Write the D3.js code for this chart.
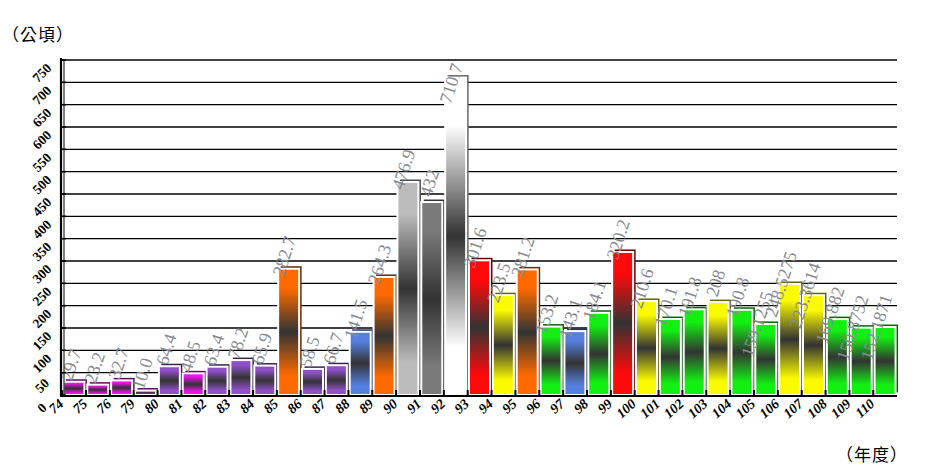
<!DOCTYPE html>
<html><head><meta charset="utf-8">
<script src="https://cdn.jsdelivr.net/npm/d3@7"></script>
<style>body{margin:0;background:#fff;} svg{display:block}</style>
</head><body><svg id="c" width="925" height="472"></svg>
<script>
const years = ["74","75","76","79","80","81","82","83","84","85","86","87","88","89","90","91","92","93","94","95","96","97","98","99","100","101","102","103","104","105","106","107","108","109","110"];
const valueLabels = ["29.7","23.2","32.7","10.0","64.4","48.5","63.4","78.2","65.9","282.7","58.5","66.7","141.5","264.3","476.9","432","710.7","301.6","223.5","281.2","153.2","143.1","184.1","320.2","210.6","170.1","191.8","208","190.8","159.1255","248.5275","223.3614","169.882","150.8752","152.1871"];
const values = valueLabels.map(Number);
const palette = {M:"#ee14ee",P:"#8f50c8",O:"#ff6a00",B:"#5580e0",LG:"#bcbcbc",G:"#7a7a7a",W:"#ffffff",R:"#ff0a0a",Y:"#fafa00",Gr:"#12f012"};
const barColorKeys = ["M","M","M","M","P","M","P","P","P","O","P","P","B","O","LG","G","W","R","Y","O","Gr","B","Gr","R","Y","Gr","Gr","Y","Gr","Gr","Y","Y","Gr","Gr","Gr"];
const yTicks = d3.range(0, 751, 50);

const svg = d3.select("#c");
const x = d3.scaleBand().domain(years).range([62, 897]).paddingInner(0.12).paddingOuter(0.06);
const y = d3.scaleLinear().domain([0, 750]).range([395, 60]);

const defs = svg.append("defs");
Object.entries(palette).forEach(([k, c]) => {
  const g = defs.append("linearGradient").attr("id", "grad-" + k)
    .attr("x1", 0).attr("y1", 0).attr("x2", 0).attr("y2", 1);
  g.append("stop").attr("offset", "0%").attr("stop-color", c);
  g.append("stop").attr("offset", "15%").attr("stop-color", c);
  g.append("stop").attr("offset", "50%").attr("stop-color", "#333");
  g.append("stop").attr("offset", "85%").attr("stop-color", c);
  g.append("stop").attr("offset", "100%").attr("stop-color", c);
});

// gridlines
svg.append("g").selectAll("line").data(yTicks.filter(t => t > 0)).join("line")
  .attr("x1", 62).attr("x2", 897)
  .attr("y1", d => y(d)).attr("y2", d => y(d))
  .attr("stroke", "#000").attr("stroke-width", 1.3);

const data = years.map((yr, i) => ({yr, v: values[i], label: valueLabels[i], key: barColorKeys[i]}));

// shadows
svg.append("g").selectAll("rect").data(data).join("rect")
  .attr("x", d => x(d.yr) + 2.5).attr("y", d => y(d.v) - 2.5)
  .attr("width", x.bandwidth()).attr("height", d => y(0) - y(d.v))
  .attr("fill", d => d3.color(palette[d.key]).darker(2.5));

// bars
svg.append("g").selectAll("rect").data(data).join("rect")
  .attr("x", d => x(d.yr)).attr("y", d => y(d.v))
  .attr("width", x.bandwidth()).attr("height", d => y(0) - y(d.v))
  .attr("fill", d => "url(#grad-" + d.key + ")")
  .attr("stroke", "#fff").attr("stroke-width", 2);

// base ticks between bars
svg.append("g").selectAll("line").data(years).join("line")
  .attr("x1", d => x(d) - 1.3).attr("x2", d => x(d) - 1.3)
  .attr("y1", 390).attr("y2", 396)
  .attr("stroke", "#000").attr("stroke-width", 2);

// value labels
svg.append("g").selectAll("text").data(data).join("text")
  .attr("transform", d => `translate(${x(d.yr) + 18},${Math.max(y(d.v) - 30, 66)}) rotate(-72)`)
  .attr("text-anchor", "end")
  .attr("font-family", "'Liberation Serif','Times New Roman',serif")
  .attr("font-size", 18).attr("fill", "#878a92")
  .text(d => d.label);

// axes lines
svg.append("line").attr("x1", 61).attr("x2", 61).attr("y1", 58).attr("y2", 397)
  .attr("stroke", "#000").attr("stroke-width", 2.2);
svg.append("line").attr("x1", 64).attr("x2", 64).attr("y1", 60).attr("y2", 396)
  .attr("stroke", "#000").attr("stroke-width", 1);
svg.append("line").attr("x1", 60).attr("x2", 897).attr("y1", 396).attr("y2", 396)
  .attr("stroke", "#000").attr("stroke-width", 2);
svg.append("g").selectAll("line").data(yTicks).join("line")
  .attr("x1", 61).attr("x2", 66).attr("y1", d => y(d)).attr("y2", d => y(d))
  .attr("stroke", "#000").attr("stroke-width", 1.5);

// y tick labels
svg.append("g").selectAll("text").data(yTicks).join("text")
  .attr("transform", d => `translate(43,${y(d) + 14}) rotate(-45)`)
  .attr("text-anchor", "middle").attr("dominant-baseline", "middle")
  .attr("font-family", "'Liberation Serif','Times New Roman',serif")
  .attr("font-weight", "bold").attr("font-size", 13.5).attr("fill", "#000")
  .text(d => d);

// x tick labels
svg.append("g").selectAll("text").data(years).join("text")
  .attr("transform", d => `translate(${x(d) + 1},${405}) rotate(-42)`)
  .attr("text-anchor", "end")
  .attr("font-family", "'Liberation Serif','Times New Roman',serif")
  .attr("font-weight", "bold").attr("font-style", "italic").attr("font-size", 14).attr("fill", "#000")
  .text(d => d);

// unit labels
svg.append("text").attr("x", 2).attr("y", 41)
  .attr("font-family", "'Noto Sans CJK TC','Noto Sans CJK SC',sans-serif")
  .attr("font-size", 17).attr("letter-spacing", 1).attr("fill", "#000").text("（公頃）");
svg.append("text").attr("x", 836).attr("y", 461)
  .attr("font-family", "'Noto Sans CJK TC','Noto Sans CJK SC',sans-serif")
  .attr("font-size", 17).attr("letter-spacing", 1).attr("fill", "#000").text("（年度）");
</script></body></html>
